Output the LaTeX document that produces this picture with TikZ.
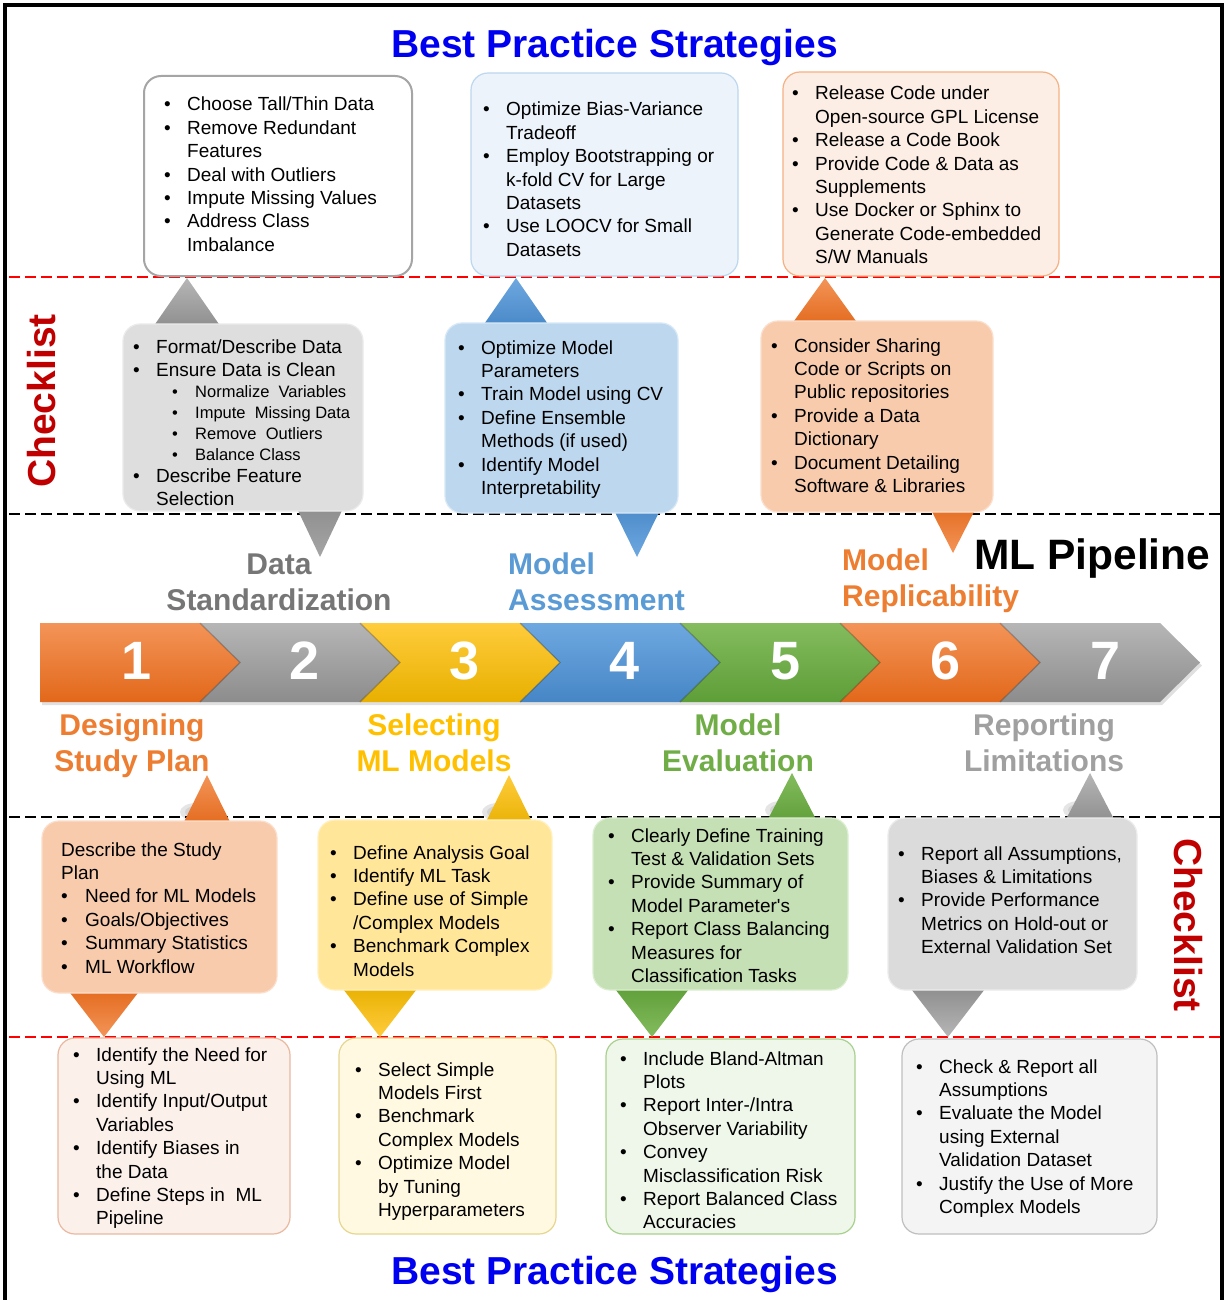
\documentclass[tikz,border=0pt]{standalone}
\usepackage{fontspec}
\setmainfont{Liberation Sans}[Ligatures=TeXOff]
\usepackage{array}
\definecolor{bpblue}{RGB}{0,0,240}
\definecolor{ckred}{RGB}{192,0,0}
\definecolor{orA}{RGB}{237,125,49}
\definecolor{orL}{RGB}{243,148,88}
\definecolor{orD}{RGB}{226,104,26}
\definecolor{grA}{RGB}{165,165,165}
\definecolor{grL}{RGB}{182,182,182}
\definecolor{grD}{RGB}{140,140,140}
\definecolor{yeA}{RGB}{255,192,0}
\definecolor{yeL}{RGB}{255,204,60}
\definecolor{yeD}{RGB}{232,176,0}
\definecolor{blA}{RGB}{91,155,213}
\definecolor{blL}{RGB}{110,168,224}
\definecolor{blD}{RGB}{70,134,198}
\definecolor{gnA}{RGB}{112,173,71}
\definecolor{gnL}{RGB}{132,188,94}
\definecolor{gnD}{RGB}{94,158,56}
\definecolor{dsgray}{RGB}{118,118,118}
\definecolor{rpgray}{RGB}{160,160,160}
\newcommand{\blist}[1]{\begin{tabular}[t]{@{}p{23pt}@{}l@{}}#1\end{tabular}}
\newcommand{\bu}{\textbullet}
\begin{document}
\begin{tikzpicture}[x=1pt,y=-1pt,
  txt/.style={inner sep=0pt, anchor=base west, font=\fontsize{19}{23.4}\selectfont},
  subtxt/.style={inner sep=0pt, anchor=base west, font=\fontsize{16.5}{21}\selectfont},
  box/.style={rectangle, rounded corners=17pt, inner sep=0pt, line width=1.2pt},
  lab/.style={inner sep=0pt, anchor=base, font=\fontsize{30}{36}\selectfont\bfseries},
  num/.style={inner sep=0pt, text=white, font=\fontsize{54}{60}\selectfont\bfseries},
  title/.style={inner sep=0pt, anchor=base, text=bpblue, font=\fontsize{39}{44}\selectfont\bfseries},
  ckl/.style={inner sep=0pt, text=ckred, font=\fontsize{39}{44}\selectfont\bfseries},
  redsep/.style={draw=red, line width=2.4pt, dash pattern=on 10.5pt off 5.5pt},
  blksep/.style={draw=black, line width=2.4pt, dash pattern=on 10.5pt off 5.5pt}
]
\useasboundingbox (0,0) rectangle (1225,1300);
\fill[white] (0,0) rectangle (1225,1300);
% frame
\draw[line width=4pt] (4.7,1310) -- (4.7,5.5) -- (1222,5.5) -- (1222,1310);

% separators
\coordinate (s1a) at (9,277); \coordinate (s1b) at (1220,277);
\coordinate (s2a) at (9,514); \coordinate (s2b) at (1220,514);
\coordinate (s3a) at (9,817); \coordinate (s3b) at (1220,817);
\coordinate (s4a) at (9,1037); \coordinate (s4b) at (1220,1037);
\draw[redsep] (s1a) -- (s1b);
\draw[blksep] (s2a) -- (s2b);
\draw[blksep] (s3a) -- (s3b);
\draw[redsep] (s4a) -- (s4b);

% titles
\node[title] (bpt) at (614.5,58) {Best Practice Strategies};
\node[title] (bpb) at (614.5,1284) {Best Practice Strategies};
\node[ckl, rotate=90] (ckL) at (42,401) {Checklist};
\node[ckl, rotate=-90] (ckR) at (1188,925) {Checklist};
\node[inner sep=0pt, anchor=base west, font=\fontsize{42.5}{48}\selectfont\bfseries] (mlp) at (974,569) {ML Pipeline};

% soft shadows near triangles
\foreach \cx/\cy in {196/812, 498/812, 781/810, 1079/810, 322/508, 640/508, 955/508}{
  \fill[black, opacity=0.10] (\cx,\cy) ellipse (16pt and 9pt);
  \fill[black, opacity=0.08] (\cx,\cy) ellipse (11pt and 6pt);
}

% triangles : middle row up
\shade[top color=grL, bottom color=grD] (187,278) -- (151,330) -- (223,330) -- cycle;
\shade[top color=blL, bottom color=blD] (516,278) -- (480,330) -- (552,330) -- cycle;
\shade[top color=orL, bottom color=orD] (825,278) -- (789,328) -- (861,328) -- cycle;
% middle row down
\shade[top color=grD, bottom color=grA] (293,500) -- (347,500) -- (320,557) -- cycle;
\shade[top color=blD, bottom color=blL] (609,500) -- (665,500) -- (637,557) -- cycle;
\shade[top color=orD, bottom color=orL] (926,500) -- (980,500) -- (953,553) -- cycle;
% bottom row up
\shade[top color=orL, bottom color=orD] (207,775) -- (181,828) -- (233,828) -- cycle;
\shade[top color=yeL, bottom color=yeD] (509,775) -- (483,828) -- (535,828) -- cycle;
\shade[top color=gnL, bottom color=gnD] (792,773) -- (765,825) -- (819,825) -- cycle;
\shade[top color=grL, bottom color=grD] (1090,773) -- (1063,825) -- (1117,825) -- cycle;
% bottom row down
\shade[top color=orD, bottom color=orL] (64,985) -- (144,985) -- (104,1037) -- cycle;
\shade[top color=yeD, bottom color=yeL] (340,985) -- (420,985) -- (380,1037) -- cycle;
\shade[top color=gnD, bottom color=gnL] (612,985) -- (692,985) -- (652,1037) -- cycle;
\shade[top color=grD, bottom color=grL] (908,985) -- (988,985) -- (948,1037) -- cycle;

% pipeline chevrons
\fill[black, opacity=0.12] (42,626) -- (1162,626) -- (1202,665.5) -- (1162,705) -- (42,705) -- cycle;
\shade[top color=orL, bottom color=orD] (40,623) -- (200,623) -- (240,662.5) -- (200,702) -- (40,702) -- cycle;
\foreach \k/\tc/\bc in {2/grL/grD, 3/yeL/yeD, 4/blL/blD, 5/gnL/gnD, 6/orL/orD, 7/grL/grD}{
  \pgfmathsetmacro{\Tp}{240+160*(\k-2)}
  \pgfmathsetmacro{\Tk}{240+160*(\k-1)}
  \shade[top color=\tc, bottom color=\bc] (\Tp-40,623) -- (\Tk-40,623) -- (\Tk,662.5) -- (\Tk-40,702) -- (\Tp-40,702) -- (\Tp,662.5) -- cycle;
  \draw[black, opacity=0.25, line width=1.2pt] (\Tp-40,623) -- (\Tp,662.5) -- (\Tp-40,702);
}
\node[num] (n1) at (137,661) {1};
\node[num] (n2) at (305,661) {2};
\node[num] (n3) at (465,661) {3};
\node[num] (n4) at (625,661) {4};
\node[num] (n5) at (786,661) {5};
\node[num] (n6) at (946,661) {6};
\node[num] (n7) at (1105,661) {7};

% stage labels
\node[lab, text=dsgray] (l2a) at (279,574) {Data};
\node[lab, text=dsgray] (l2b) at (279,610) {Standardization};
\node[lab, text=blA, anchor=base west] (l4a) at (508,574) {Model};
\node[lab, text=blA, anchor=base west] (l4b) at (508,610) {Assessment};
\node[lab, text=orA, anchor=base west] (l6a) at (842,570) {Model};
\node[lab, text=orA, anchor=base west] (l6b) at (842,606) {Replicability};
\node[lab, text=orA] (l1a) at (132,735) {Designing};
\node[lab, text=orA] (l1b) at (132,771) {Study Plan};
\node[lab, text=yeA] (l3a) at (434,735) {Selecting};
\node[lab, text=yeA] (l3b) at (434,771) {ML Models};
\node[lab, text=gnA] (l5a) at (738,735) {Model};
\node[lab, text=gnA] (l5b) at (738,771) {Evaluation};
\node[lab, text=rpgray] (l7a) at (1044,735) {Reporting};
\node[lab, text=rpgray] (l7b) at (1044,771) {Limitations};

% boxes top row
\node[box, fill=white, draw=grA, line width=2pt, minimum width=268pt, minimum height=200pt] (bA) at (278,176) {};
\node[box, fill={rgb,255:red,236;green,243;blue,251}, draw={rgb,255:red,189;green,215;blue,238}, minimum width=267pt, minimum height=203pt] (bB) at (604.5,174.5) {};
\node[box, fill={rgb,255:red,252;green,238;blue,229}, draw={rgb,255:red,244;green,177;blue,131}, minimum width=276pt, minimum height=204pt] (bC) at (921,174) {};
% boxes middle row
\node[box, fill={rgb,255:red,222;green,222;blue,222}, draw={rgb,255:red,235;green,235;blue,235}, minimum width=240pt, minimum height=187pt] (bD) at (243,417.5) {};
\node[box, fill={rgb,255:red,189;green,215;blue,238}, draw={rgb,255:red,215;green,232;blue,246}, minimum width=233pt, minimum height=190pt] (bE) at (561.5,418) {};
\node[box, fill={rgb,255:red,248;green,203;blue,173}, draw={rgb,255:red,251;green,222;blue,203}, minimum width=232pt, minimum height=191pt] (bF) at (877,416.5) {};
% boxes bottom checklist
\node[box, fill={rgb,255:red,248;green,203;blue,173}, draw={rgb,255:red,251;green,222;blue,203}, minimum width=235pt, minimum height=172pt] (bG) at (159.5,907) {};
\node[box, fill={rgb,255:red,255;green,230;blue,153}, draw={rgb,255:red,255;green,240;blue,190}, minimum width=234pt, minimum height=170pt] (bH) at (435,905) {};
\node[box, fill={rgb,255:red,197;green,224;blue,180}, draw={rgb,255:red,220;green,238;blue,208}, minimum width=255pt, minimum height=172pt] (bI) at (720.5,904) {};
\node[box, fill={rgb,255:red,219;green,219;blue,219}, draw={rgb,255:red,236;green,236;blue,236}, minimum width=249pt, minimum height=172pt] (bJ) at (1012.5,904) {};
% boxes bottom best practice
\node[box, fill={rgb,255:red,251;green,240;blue,234}, draw={rgb,255:red,233;green,185;blue,160}, minimum width=232pt, minimum height=196pt] (bK) at (174,1136) {};
\node[box, fill={rgb,255:red,255;green,249;blue,225}, draw={rgb,255:red,230;green,214;blue,144}, minimum width=217pt, minimum height=196pt] (bL) at (447.5,1136) {};
\node[box, fill={rgb,255:red,239;green,246;blue,234}, draw={rgb,255:red,169;green,209;blue,142}, minimum width=249pt, minimum height=195pt] (bM) at (730.5,1136.5) {};
\node[box, fill={rgb,255:red,244;green,244;blue,244}, draw={rgb,255:red,191;green,191;blue,191}, minimum width=255pt, minimum height=195pt] (bN) at (1029.5,1136.5) {};

% texts
\node[txt] (tA) at (164,111) {\blist{
\bu & Choose Tall/Thin Data\\
\bu & Remove Redundant\\
 & Features\\
\bu & Deal with Outliers\\
\bu & Impute Missing Values\\
\bu & Address Class\\
 & Imbalance}};
\node[txt] (tB) at (483,116) {\blist{
\bu & Optimize Bias-Variance\\
 & Tradeoff\\
\bu & Employ Bootstrapping or\\
 & k-fold CV for Large\\
 & Datasets\\
\bu & Use LOOCV for Small\\
 & Datasets}};
\node[txt] (tC) at (792,100) {\blist{
\bu & Release Code under\\
 & Open-source GPL License\\
\bu & Release a Code Book\\
\bu & Provide Code \& Data as\\
 & Supplements\\
\bu & Use Docker or Sphinx to\\
 & Generate Code-embedded\\
 & S/W Manuals}};
\node[txt] (tD1) at (133,353) {\blist{
\bu & Format/Describe Data\\
\bu & Ensure Data is Clean}};
\node[subtxt] (tD2) at (172,397) {\blist{
\bu & Normalize\ \ Variables\\
\bu & Impute\ \ Missing Data\\
\bu & Remove\ \ Outliers\\
\bu & Balance Class}};
\node[txt] (tD3) at (133,482) {\blist{
\bu & Describe Feature\\
 & Selection}};
\node[txt] (tE) at (458,354) {\blist{
\bu & Optimize Model\\
 & Parameters\\
\bu & Train Model using CV\\
\bu & Define Ensemble\\
 & Methods (if used)\\
\bu & Identify Model\\
 & Interpretability}};
\node[txt] (tF) at (771,352) {\blist{
\bu & Consider Sharing\\
 & Code or Scripts on\\
 & Public repositories\\
\bu & Provide a Data\\
 & Dictionary\\
\bu & Document Detailing\\
 & Software \& Libraries}};
\node[txt] (tG) at (61,856) {\begin{tabular}[t]{@{}p{24pt}@{}l@{}}
\multicolumn{2}{@{}l@{}}{Describe the Study}\\
\multicolumn{2}{@{}l@{}}{Plan}\\
\bu & Need for ML Models\\
\bu & Goals/Objectives\\
\bu & Summary Statistics\\
\bu & ML Workflow\end{tabular}};
\node[txt] (tH) at (330,859) {\blist{
\bu & Define Analysis Goal\\
\bu & Identify ML Task\\
\bu & Define use of Simple\\
 & /Complex Models\\
\bu & Benchmark Complex\\
 & Models}};
\node[txt] (tI) at (608,842) {\blist{
\bu & Clearly Define Training\\
 & Test \& Validation Sets\\
\bu & Provide Summary of\\
 & Model Parameter's\\
\bu & Report Class Balancing\\
 & Measures for\\
 & Classification Tasks}};
\node[txt] (tJ) at (898,860) {\blist{
\bu & Report all Assumptions,\\
 & Biases \& Limitations\\
\bu & Provide Performance\\
 & Metrics on Hold-out or\\
 & External Validation Set}};
\node[txt] (tK) at (73,1061) {\blist{
\bu & Identify the Need for\\
 & Using ML\\
\bu & Identify Input/Output\\
 & Variables\\
\bu & Identify Biases in\\
 & the Data\\
\bu & Define Steps in\ \ ML\\
 & Pipeline}};
\node[txt] (tL) at (355,1076) {\blist{
\bu & Select Simple\\
 & Models First\\
\bu & Benchmark\\
 & Complex Models\\
\bu & Optimize Model\\
 & by Tuning\\
 & Hyperparameters}};
\node[txt] (tM) at (620,1065) {\blist{
\bu & Include Bland-Altman\\
 & Plots\\
\bu & Report Inter-/Intra\\
 & Observer Variability\\
\bu & Convey\\
 & Misclassification Risk\\
\bu & Report Balanced Class\\
 & Accuracies}};
\node[txt] (tN) at (916,1073) {\blist{
\bu & Check \& Report all\\
 & Assumptions\\
\bu & Evaluate the Model\\
 & using External\\
 & Validation Dataset\\
\bu & Justify the Use of More\\
 & Complex Models}};
\end{tikzpicture}
\end{document}
